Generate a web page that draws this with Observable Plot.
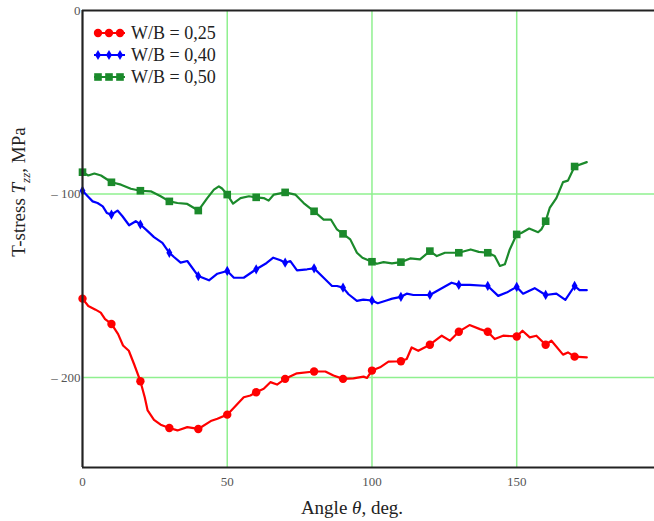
<!DOCTYPE html>
<html><head><meta charset="utf-8">
<script src="https://cdn.jsdelivr.net/npm/d3@7"></script>
<script src="https://cdn.jsdelivr.net/npm/@observablehq/plot@0.6"></script>
<style>
body{margin:0;background:#fff;}
#wrap{position:relative;width:654px;height:521px;font-family:"Liberation Serif","Times New Roman",serif;}
#legend{position:absolute;left:93px;top:22px;font-size:18px;color:#222;}
.row{display:flex;align-items:center;height:22px;}
.row svg{margin-right:5px;}
</style></head><body><div id="wrap"></div>
<script>
// ---- data (angle in degrees, T-stress in MPa) ----
const redAngle = [0,2,4.5,6.3,7.8,10,12.3,14,16,17.8,20,21.5,22.5,24.7,27,30,32.8,36.2,40,44.3,46.6,50,52.3,55.7,58,60,62.6,64.9,67.2,70,74.1,80,83.9,86.7,90,93.6,97.1,98.3,100,102.8,105.7,110,112,113.7,116,120,124.1,126.9,130,133.7,137.3,140,142.4,145.3,150,152,154.5,156.8,160,162,166,167.7,170,174.2];
const redT = [-157,-161,-163,-164.6,-168.2,-170.8,-176.3,-182.5,-185.4,-192.6,-202,-210.7,-217.9,-223,-225.7,-227.5,-228.8,-227,-228,-223.7,-222.4,-220.2,-216.4,-210.7,-209.8,-208,-206.1,-202.5,-203.8,-200.7,-197.7,-196.7,-196.7,-198.9,-200.7,-200.4,-199.5,-200.2,-196.2,-194.4,-191.3,-191.1,-189.9,-183.6,-185.4,-182.1,-177.2,-179.9,-175,-171.4,-173.6,-175,-179,-177.2,-177.6,-174.5,-178.1,-177.2,-182.1,-179.9,-187.5,-186.3,-188.6,-189];

const blueAngle = [0,1.8,3.5,5.2,7,8.4,10,12.1,13.8,16.1,18.4,20,22.5,24.7,27.6,30,31.6,33.9,36.2,40,43.7,46.6,50,52.3,55.7,60,63.2,65.9,68.4,70,71.8,74.1,77.6,80,83.3,86.2,87.9,90,91.9,94.8,97,100,102,105,107,110,112,114.3,120,123.5,127.5,130,133.8,140,143.6,146.5,150,152.2,156.2,160,163.7,166.8,170,171.7,174.2];
const blueT = [-98.2,-101.2,-104,-104.9,-106.7,-110.3,-111.2,-109,-112.1,-117,-114.8,-116.6,-120.2,-123.5,-126.6,-132,-134.3,-137.4,-136.5,-144.7,-147,-143.4,-141.9,-145.6,-145.6,-141,-138,-134.7,-136.1,-137.4,-136.5,-141.6,-141,-140.5,-145.6,-150.1,-150.1,-151,-154.6,-158.2,-157.5,-158,-159.5,-158,-157,-156,-154.3,-155,-155,-151.9,-148.3,-149.5,-149.5,-150.1,-155.5,-153.7,-150.6,-154.3,-151.3,-155,-154.3,-157.7,-150.1,-152.4,-152.4];

const greenAngle = [0,2,4.1,6.4,10,13.3,16.7,20,23.6,27,30,32.8,36.2,40,43.1,45.4,47.1,48.2,50,52,54.6,57.5,60,62.6,64.3,66.1,70,73.5,76.4,80,83.3,85.8,87.9,90,92.5,94.8,96.7,100,101.7,104,106.9,110,113.2,116.6,120,122.4,125.2,130,134.1,136.9,140,142.4,144.2,145.9,147.6,150,151.6,154.3,157.4,158.5,160,161.4,163.7,166,167.7,170,174.2];
const greenT = [-88.1,-89.9,-88.8,-89.9,-93.6,-94.9,-97.1,-98.2,-98.5,-101.2,-104,-104.9,-105.4,-109,-102.2,-97.6,-95.8,-97,-100.3,-105.2,-102.2,-101.2,-101.8,-102.2,-103.6,-100.3,-99.1,-100.3,-104.9,-109.4,-113.9,-113.9,-119.3,-121.7,-124.7,-132,-134.7,-136.9,-138,-137.1,-137.8,-137.1,-135.1,-135.6,-131.1,-133.8,-132,-132,-130.2,-131.5,-132,-133.8,-139.2,-138.3,-130.2,-122,-121.2,-118.8,-120.8,-119.3,-114.8,-107.6,-102.2,-93.5,-92.7,-85,-82.6];

const seriesNames = ["W/B = 0,25","W/B = 0,40","W/B = 0,50"];
const seriesColors = ["#ff0000","#0000ff","#1b8a2b"];
const seriesSymbols = ["circle","diamond","square"];
const seriesR = [4.2,3.1,4.3];
const markerAngles = [0,10,20,30,40,50,60,70,80,90,100,110,120,130,140,150,160,170];

const xTicks = [0,50,100,150];
const yTicks = [0,-100,-200];
const xLabel = "Angle ";
const yLabelPre = "T-stress ";

// ---- build ----
const raw = [[redAngle,redT],[blueAngle,blueT],[greenAngle,greenT]];
const series = raw.map(([a,t],k)=>({
  name: seriesNames[k], color: seriesColors[k], symbol: seriesSymbols[k], r: seriesR[k],
  pts: a.map((x,i)=>({a:x, t:t[i]}))
}));

const marks = [
  Plot.gridX(xTicks.slice(1), {stroke:"#8ff08f", strokeOpacity:1, strokeWidth:1.5}),
  Plot.gridY(yTicks.slice(1), {stroke:"#8ff08f", strokeOpacity:1, strokeWidth:1.5}),
];
for (const s of series) {
  marks.push(Plot.line(s.pts, {x:"a", y:"t", stroke:s.color, strokeWidth:2.2, curve:"linear", strokeLinejoin:"round"}));
  marks.push(Plot.dot(s.pts.filter(p=>markerAngles.includes(p.a)), {x:"a", y:"t", fill:s.color, stroke:"none", symbol:s.symbol, r:s.r}));
}
marks.push(Plot.ruleX([0], {stroke:"#222", strokeWidth:2.2}));
marks.push(Plot.ruleY([-249], {stroke:"#222", strokeWidth:2.2}));
marks.push(Plot.ruleY([0], {stroke:"#222", strokeWidth:2}));

const chart = Plot.plot({
  width:654, height:521,
  marginLeft:82, marginRight:0, marginTop:10, marginBottom:54,
  style:{fontFamily:"'Liberation Serif','Times New Roman',serif", fontSize:"13px", color:"#555", background:"#fff"},
  x:{domain:[0,197.6], ticks:xTicks, tickSize:0, tickPadding:9, label:null},
  y:{domain:[-249,0], ticks:yTicks, tickSize:0, tickPadding:2, label:null,
     tickFormat:d => d===0 ? "0" : "\u2013 " + Math.abs(d)},
  marks
});
document.getElementById("wrap").appendChild(chart);

const svg = d3.select(chart);
// x axis label
const xl = svg.append("text").attr("x",352).attr("y",514).attr("text-anchor","middle")
  .attr("font-size",19).attr("fill","#222").attr("font-family","'Liberation Serif',serif");
xl.append("tspan").text(xLabel);
xl.append("tspan").attr("font-style","italic").text("\u03b8");
xl.append("tspan").text(", deg.");
// y axis label
const yl = svg.append("text").attr("transform","translate(25,192) rotate(-90)").attr("text-anchor","middle")
  .attr("font-size",19).attr("fill","#222").attr("font-family","'Liberation Serif',serif");
yl.append("tspan").text(yLabelPre);
yl.append("tspan").attr("font-style","italic").text("T");
yl.append("tspan").attr("font-style","italic").attr("font-size",13).attr("dy",5).text("zz");
yl.append("tspan").attr("dy",-5).text(", MPa");

// legend
const leg = document.createElement("div");
leg.id = "legend";
for (const s of series) {
  const row = document.createElement("div");
  row.className = "row";
  const sw = d3.create("svg").attr("width",33).attr("height",12);
  sw.append("line").attr("x1",1).attr("x2",32).attr("y1",6).attr("y2",6).attr("stroke",s.color).attr("stroke-width",2);
  const sym = d3.symbol().type(s.symbol==="circle"?d3.symbolCircle:s.symbol==="square"?d3.symbolSquare:d3.symbolDiamond).size(Math.PI*s.r*s.r);
  for (const cx of [5,16,27]) sw.append("path").attr("d",sym()).attr("transform",`translate(${cx},6)`).attr("fill",s.color);
  row.appendChild(sw.node());
  const tx = document.createElement("span"); tx.textContent = s.name;
  row.appendChild(tx);
  leg.appendChild(row);
}
document.getElementById("wrap").appendChild(leg);
</script>
</body></html>
